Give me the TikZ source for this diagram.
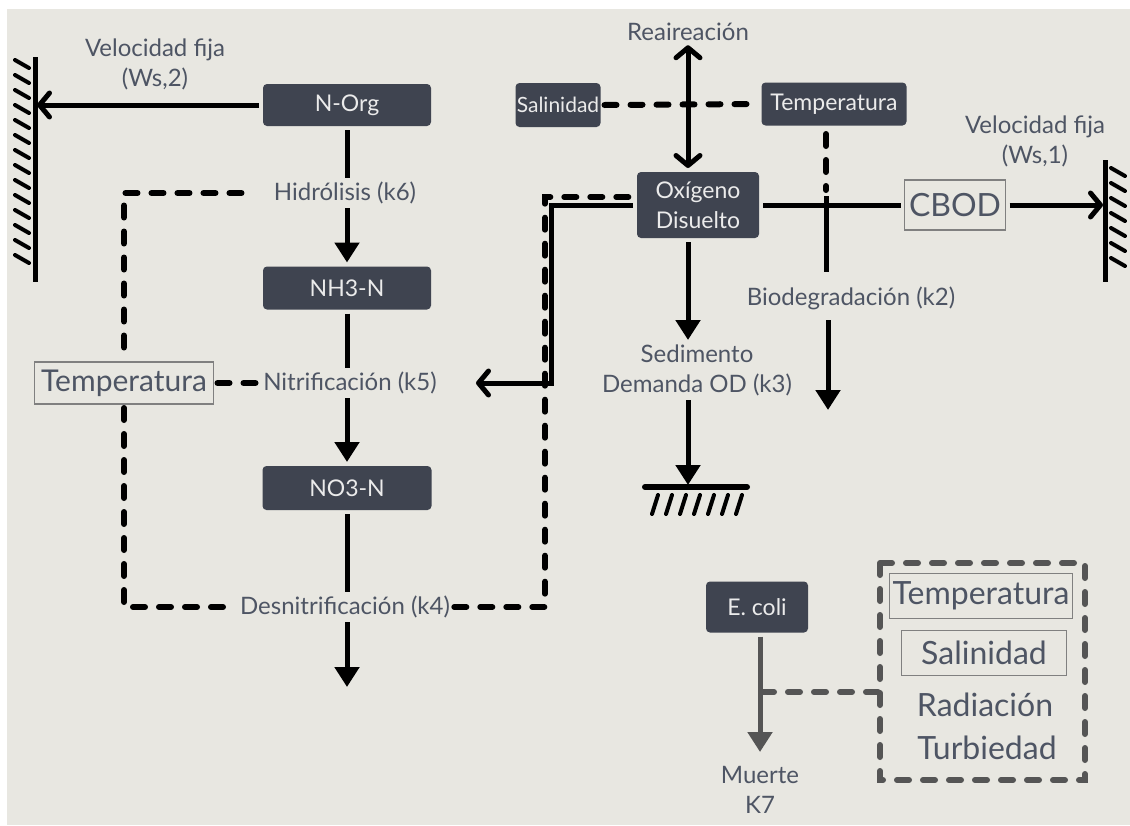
\documentclass[tikz,border=0pt]{standalone}
\usepackage{fontspec}
\setmainfont{Lato}
\usetikzlibrary{arrows.meta}

\definecolor{fondo}{HTML}{E8E7E1}
\definecolor{cajac}{HTML}{3F4450}
\definecolor{textoc}{HTML}{4E5564}
\definecolor{grisc}{HTML}{555555}

\begin{document}
\begin{tikzpicture}[x=0.5pt,y=-0.5pt,
  caja/.style={fill=cajac, rounded corners=2pt, text=white!92!black, inner sep=0pt, outer sep=2pt,
    font=\fontsize{11.5}{15}\selectfont, align=center},
  marco/.style={draw=gray, fill=fondo, line width=0.6pt, text=textoc, inner sep=0pt, outer sep=2pt,
    font=\fontsize{15}{17}\selectfont},
  etiq/.style={text=textoc, font=\fontsize{12}{15}\selectfont, align=center, inner sep=2pt},
  flujo/.style={line width=2.5pt},
  trazos/.style={line width=3pt, dash pattern=on 6pt off 7pt, line cap=round},
  flecha/.style={flujo, -{Triangle[length=10pt,width=12pt]}},
  punta/.style={flujo, -{Straight Barb[length=5pt,width=12pt,round]}},
  rayas/.style={line width=2pt, line cap=round}]

\fill[white] (0,0) rectangle (1130,825);
\fill[fondo] (7,9) rectangle (1130,825);

% nitrogeno
\node[caja, minimum width=84pt, minimum height=21pt] (norg) at (347,105) {N-Org};
\node[etiq] (hidro) at (345,193) {Hidrólisis (k6)};
\node[caja, minimum width=84pt, minimum height=21.5pt] (nh3) at (347,288) {NH3-N};
\node[etiq] (nitri) at (350,383) {Nitrificación (k5)};
\node[caja, minimum width=84.5pt, minimum height=22pt] (no3) at (347,488) {NO3-N};
\node[etiq] (desni) at (345,607) {Desnitrificación (k4)};
\node[marco, minimum width=89.5pt, minimum height=21pt] (templ) at (124,383) {Temperatura};
\node[etiq] (velizq) at (155,64) {Velocidad fija\\(Ws,2)};
\coordinate (muroizq) at (37,105);
\coordinate (salida) at (347,687);

\draw[flujo] (norg.south) -- (norg.south |- hidro.north);
\draw[flecha] (norg.south |- hidro.south) -- (nh3.north);
\draw[flujo] (nh3.south) -- (nh3.south |- nitri.north);
\draw[flecha] (nh3.south |- nitri.south) -- (no3.north);
\draw[flujo] (no3.south) -- (no3.south |- desni.north);
\draw[flecha] (no3.south |- desni.south) -- (salida);
\draw[punta] (norg.west) -- (muroizq);

% muro izquierdo
\draw[flujo] (35,57) -- (35,282);
\foreach \y in {60,75,...,255}
  \draw[rayas] (15,\y) -- (29,\y+8);

% temperatura
\draw[trazos, shorten <=14pt] (hidro.west) -- (124,193) -- (templ.north);
\draw[trazos] (templ.south) -- (124,607) -- (desni.west);
\draw[trazos] (templ.east) -- (nitri.west);

% oxigeno
\node[etiq] (reai) at (688,32) {Reaireación};
\node[caja, minimum width=42.5pt, minimum height=22pt, font=\fontsize{10.5}{13}\selectfont] (sal) at (558,105) {Salinidad};
\node[caja, minimum width=72.5pt, minimum height=21.5pt] (tempsup) at (834,104) {Temperatura};
\node[caja, minimum width=61pt, minimum height=33pt] (oxi) at (698,205) {Oxígeno\\Disuelto};
\node[marco, minimum width=50.5pt, minimum height=25pt, font=\fontsize{16}{18}\selectfont] (cbod) at (955,205) {CBOD};
\node[etiq] (veldch) at (1035,141) {Velocidad fija\\(Ws,1)};
\node[etiq] (biodeg) at (851,298) {Biodegradación (k2)};
\node[etiq] (sedim) at (697,370) {Sedimento\\Demanda OD (k3)};
\coordinate (murodch) at (1103,205);
\coordinate (nitarr) at (476,383);
\coordinate (fondosed) at (688,485);
\coordinate (bio) at (828,410);

\draw[flujo, {Straight Barb[length=5pt,width=12pt,round]}-{Straight Barb[length=5pt,width=12pt,round]}]
  (reai.south) -- (reai.south |- oxi.north);
\draw[trazos] (sal.east) -- (tempsup.west);
\draw[flujo] (oxi.east) -- (cbod.west);
\draw[punta] (cbod.east) -- (murodch);
\draw[trazos] (826,134) -- (826,190);
\draw[flujo] (826,196) -- (826,272);
\draw[flecha] (828,320) -- (bio);
\draw[flecha] (reai.south |- oxi.south) -- (reai.south |- sedim.north);
\draw[flecha] (reai.south |- sedim.south) -- (fondosed);
\draw[punta] (oxi.west) -- (551,205) -- (551,383) -- (nitarr);
\draw[trazos] (desni.east) -- (545,607) -- (545,197) -- (632,197);

% muro derecho
\draw[flujo] (1105,160) -- (1105,282);
\foreach \y in {168,183,...,268}
  \draw[rayas] (1111,\y) -- (1125,\y+8);

% sedimento
\draw[line width=3pt, line cap=round] (645,487) -- (747,487);
\foreach \x in {652,666,...,736}
  \draw[rayas] (\x,514) -- (\x+6,495);

% e. coli
\node[caja, minimum width=51pt, minimum height=25.5pt] (ecoli) at (757,607) {E. coli};
\node[etiq] (muerte) at (760,790) {Muerte\\K7};
\node[marco, minimum width=91.5pt, minimum height=22.5pt, font=\fontsize{16}{18}\selectfont] (tempdch) at (981,596) {Temperatura};
\node[marco, minimum width=82.5pt, minimum height=22.5pt, font=\fontsize{16}{18}\selectfont] (saldch) at (984,653) {Salinidad};
\node[etiq, font=\fontsize{16}{18}\selectfont] (radia) at (985,705) {Radiación};
\node[etiq, font=\fontsize{16}{18}\selectfont] (turbi) at (987,748) {Turbiedad};
\coordinate (caja1) at (880,563);
\coordinate (caja2) at (1085,780);

\draw[flujo, grisc, -{Triangle[length=10pt,width=12pt]}] (ecoli.south -| 760,0) -- (760,752);
\draw[trazos, grisc] (caja1) rectangle (caja2);
\draw[trazos, grisc] (762,692) -- (caja1 |- 0,692);
\end{tikzpicture}
\end{document}
